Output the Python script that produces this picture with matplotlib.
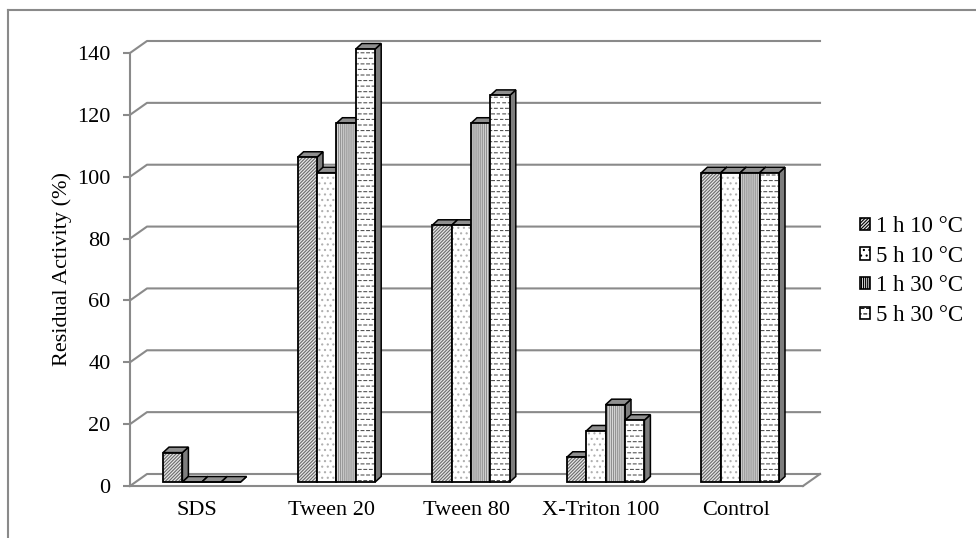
import matplotlib
matplotlib.use("Agg")
import matplotlib.pyplot as plt
from matplotlib.patches import Polygon, Patch
from matplotlib.lines import Line2D
from matplotlib.path import Path
from matplotlib import hatch as mhatch
import matplotlib.transforms as mtransforms

# ---- data -------------------------------------------------------------
categories = ["SDS", "Tween 20", "Tween 80", "X-Triton 100", "Control"]
series_labels = ["1 h 10 °C", "5 h 10 °C", "1 h 30 °C", "5 h 30 °C"]
act_1h_10 = [9.5, 105, 83, 8, 100]
act_5h_10 = [0, 100, 83, 16.5, 100]
act_1h_30 = [0, 116, 116, 25, 100]
act_5h_30 = [0, 140, 125, 20, 100]
y_ticks = [0, 20, 40, 60, 80, 100, 120, 140]


# ---- a staggered dash fill used for the last series --------------------
class DashedRows(mhatch.HatchPatternBase):
    def __init__(self, hatch, density):
        self.num_rows = int((hatch.count("-") + hatch.count("+")) * density)
        self.num_cols = self.num_rows
        self.num_vertices = self.num_rows * self.num_cols * 2

    def set_vertices_and_codes(self, vertices, codes):
        if self.num_rows == 0:
            return
        k = 0
        for r in range(self.num_rows):
            y = (r + 0.5) / self.num_rows
            shift = 0.5 / self.num_cols if r % 2 else 0.0
            for c in range(self.num_cols):
                x0 = c / self.num_cols + shift
                vertices[k] = (x0, y)
                vertices[k + 1] = (x0 + 0.5 / self.num_cols, y)
                codes[k] = Path.MOVETO
                codes[k + 1] = Path.LINETO
                k += 2


mhatch._hatch_types = [DashedRows if t is mhatch.HorizontalHatch else t
                       for t in mhatch._hatch_types]

plt.rcParams["font.family"] = ["Liberation Serif", "DejaVu Serif"]
plt.rcParams["hatch.linewidth"] = 0.8

W, H, DPI = 976, 538, 100
fig = plt.figure(figsize=(W / DPI, H / DPI), dpi=DPI)

# axes box in pixels: front wall from x=130..803, y=486 (0) .. 53 (140)
ax_l, ax_r, ax_b, ax_t = 130, 803, 486, 53
ax = fig.add_axes([ax_l / W, (H - ax_b) / H, (ax_r - ax_l) / W, (ax_b - ax_t) / H])
n_cat = len(categories)
ax.set_xlim(-0.5, n_cat - 0.5)
ax.set_ylim(0, 140)
ax.patch.set_visible(False)

grey = "#8a8a8a"
for side in ["top", "right"]:
    ax.spines[side].set_visible(False)
ax.spines["left"].set_color(grey)
ax.spines["left"].set_linewidth(1.5)
ax.spines["bottom"].set_color(grey)
ax.spines["bottom"].set_linewidth(1.5)

ax.set_yticks(y_ticks)
ax.set_yticklabels([str(v) for v in y_ticks])
ax.tick_params(axis="y", length=5, width=1.5, color=grey, pad=9, labelsize=16)
ax.set_xticks(range(n_cat))
ax.set_xticklabels(categories)
ax.tick_params(axis="x", length=0, pad=11, labelsize=16)
ax.set_ylabel("Residual Activity (%)", fontsize=16, labelpad=4)

# pixel -> data conversions
px_x = (ax_r - ax_l) / n_cat          # pixels per category unit
px_y = (ax_b - ax_t) / 140.0          # pixels per activity unit

# back wall with gridlines
wall_dx, wall_dy = 17 / px_x, 12 / px_y
for v in y_ticks:
    ax.plot([-0.5, -0.5 + wall_dx, n_cat - 0.5 + wall_dx],
            [v, v + wall_dy, v + wall_dy],
            color=grey, lw=1.5, clip_on=False, zorder=1)
ax.plot([n_cat - 0.5, n_cat - 0.5 + wall_dx], [0, wall_dy],
        color=grey, lw=1.5, clip_on=False, zorder=1)

# bars (front face + top + right side)
series = [act_1h_10, act_5h_10, act_1h_30, act_5h_30]
hatches = ["//////////", "...", "||||||||", "---"]
hatch_cols = ["#6a6a6a", "#b0b0b0", "#909090", "#555555"]
face_cols = ["#e6e6e6", "#ffffff", "#dadada", "#ffffff"]
bar_w = 19.4 / px_x
depth_dx, depth_dy = 6 / px_x, 5.5 / px_y
shift = mtransforms.ScaledTranslation(4.5 / DPI, 4 / DPI, fig.dpi_scale_trans)
btrans = ax.transData + shift

z = 10
for i in range(n_cat):
    for k, vals in enumerate(series):
        h = vals[i]
        xl = i + (k - 2) * bar_w
        xr = xl + bar_w
        side = Polygon([(xr, 0), (xr + depth_dx, depth_dy),
                        (xr + depth_dx, h + depth_dy), (xr, h)],
                       closed=True, facecolor="#7d7d7d", edgecolor="black",
                       lw=1.1, transform=btrans, zorder=z, clip_on=False)
        ax.add_patch(side)
        top = Polygon([(xl, h), (xr, h), (xr + depth_dx, h + depth_dy),
                       (xl + depth_dx, h + depth_dy)],
                      closed=True, facecolor="#8f8f8f", edgecolor="black",
                      lw=1.1, transform=btrans, zorder=z + 1, clip_on=False)
        ax.add_patch(top)
        ax.bar(xl, h, width=bar_w, align="edge", bottom=0,
               color=face_cols[k], edgecolor=hatch_cols[k], linewidth=0,
               hatch=hatches[k], transform=btrans, zorder=z + 2, clip_on=False)
        ax.bar(xl, h, width=bar_w, align="edge", bottom=0,
               facecolor="none", edgecolor="black", linewidth=1.3,
               transform=btrans, zorder=z + 3, clip_on=False)
        z += 4

# legend
handles = [Patch(facecolor=face_cols[k], edgecolor="black", hatch=hatches[k],
                 linewidth=1.2) for k in range(4)]
fig.legend(handles, series_labels, loc="center left",
           bbox_to_anchor=(860 / W, (H - 271) / H), frameon=False,
           fontsize=16.5, handlelength=0.45, handleheight=0.45,
           handletextpad=0.25, labelspacing=0.38, borderpad=0,
           borderaxespad=0)

# outer frame
fig.add_artist(Line2D([8 / W, 8 / W], [0, (H - 10) / H], color=grey, lw=1.5,
                      transform=fig.transFigure))
fig.add_artist(Line2D([8 / W, 1], [(H - 10) / H, (H - 10) / H], color=grey,
                      lw=1.5, transform=fig.transFigure))

fig.savefig("out.png", dpi=DPI, facecolor="white")
